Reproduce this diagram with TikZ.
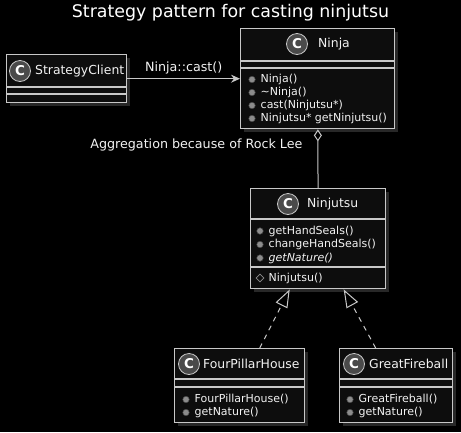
\documentclass[tikz,border=0pt]{standalone}
\usepackage{fontspec}
\setmainfont{DejaVu Sans}
\usepackage{xcolor}
\usepackage{tikz}
\usetikzlibrary{arrows.meta}
\usetikzlibrary{calc}
\usetikzlibrary{shapes.geometric,positioning,shadows}

\definecolor{umlbg}{HTML}{000000}
\definecolor{umlfill}{HTML}{0D0D0D}
\definecolor{umlborder}{HTML}{C8C8C8}
\definecolor{umltext}{HTML}{F2F2F2}
\definecolor{umlicon}{HTML}{4A4A4A}
\definecolor{umlshadow}{HTML}{505050}
\definecolor{umldot}{HTML}{8C8C8C}

\begin{document}
\begin{tikzpicture}[x=1pt, y=-1pt,
        classbox/.style={draw=umlborder, line width=1.4pt, fill=umlfill, anchor=north west, inner sep=0pt,
            drop shadow={shadow xshift=3pt, shadow yshift=-3pt, fill=umlshadow}},
        sepline/.style={draw=umlborder, line width=1.2pt},
        classicon/.style={circle, draw=umlborder, line width=0.8pt, fill=umlicon, minimum size=21pt,
            inner sep=0pt, text=white, font=\fontsize{13.5}{13.5}\selectfont\bfseries},
        classname/.style={anchor=west, inner sep=0pt, text=umltext, font=\fontsize{12.4}{14}\selectfont},
        member/.style={anchor=west, inner sep=0pt, text=umltext, font=\fontsize{11}{13}\selectfont},
        pubdot/.style={circle, fill=umldot, draw=umldot!50!black, line width=0.5pt, minimum size=6.5pt, inner sep=0pt},
        protmark/.style={diamond, draw=umldot, line width=0.8pt, minimum size=8pt, inner sep=0pt},
        link/.style={draw=umlborder, line width=1pt},
        edgelabel/.style={text=umltext, font=\fontsize{12.7}{15}\selectfont, inner sep=0pt}
    ]
        % Dark background, also fixes the page size
        \fill[umlbg] (0,0) rectangle (461,432);
        \useasboundingbox (0,0) rectangle (461,432);

        \node[text=white, font=\fontsize{17.4}{20}\selectfont] (title) at (230.5,12.5) {Strategy pattern for casting ninjutsu};

        % Class boxes
        \foreach \cls/\x/\y/\w/\h in {
            client/6/54/120/48,
            ninja/240/28/154/100,
            ninjutsu/250/188/135/100,
            pillar/174/348/130/74,
            fireball/339/348/113/74
        } {
            \node[classbox, minimum width=\w pt, minimum height=\h pt] (\cls) at (\x,\y) {};
        }

        % Compartment lines
        \foreach \cls/\a/\b in {client/33/40, ninja/33/40, ninjutsu/31/79, pillar/31/39, fireball/31/39} {
            \draw[sepline] ($(\cls.north west)+(0,\a)$) -- ($(\cls.north east)+(0,\a)$);
            \draw[sepline] ($(\cls.north west)+(0,\b)$) -- ($(\cls.north east)+(0,\b)$);
        }

        % Class icons and names
        \foreach \cls/\ix/\iy/\tx/\cname in {
            client/20/71/35/StrategyClient,
            ninja/297/44/318/Ninja,
            ninjutsu/288/204/307/Ninjutsu,
            pillar/189/364/203/FourPillarHouse,
            fireball/354/364/369/GreatFireball
        } {
            \node[classicon] (\cls-icon) at (\ix,\iy) {C};
            \node[classname] (\cls-name) at (\tx,\iy) {\cname};
        }

        % Public methods
        \foreach \dx/\y/\txt [count=\k] in {
            252/79.5/Ninja(),
            252/92.5/{\textasciitilde Ninja()},
            252/105.5/cast(Ninjutsu*),
            252/118.5/Ninjutsu* getNinjutsu(),
            260/231/getHandSeals(),
            260/244.5/changeHandSeals(),
            260/258/{\itshape getNature()},
            186/399.5/FourPillarHouse(),
            186/412.5/getNature(),
            350/399.5/GreatFireball(),
            350/412.5/getNature()
        } {
            \node[pubdot] (dot\k) at (\dx,\y) {};
            \node[member] (meth\k) at (\dx+8.5,\y) {\txt};
        }

        % Protected constructor
        \node[protmark] (protdot) at (260,278) {};
        \node[member] (protmeth) at (268.5,278) {Ninjutsu()};

        % Relations
        \draw[link, -{Stealth[length=9pt, width=8pt, inset=3pt]}] (client) --
            node[edgelabel, above=4pt] (cast-label) {Ninja::cast()} (ninja);
        \draw[link, {Diamond[length=12pt, width=8pt, fill=umlbg]}-] (ninja) --
            node[edgelabel, pos=0.27, left=15pt] (agg-label) {Aggregation because of Rock Lee} (ninjutsu);
        \draw[link, dash pattern=on 5pt off 5pt, -{Triangle[length=18pt, width=13pt, fill=umlbg]}]
            ([xshift=20pt]pillar.north) -- ([xshift=-28.5pt]ninjutsu.south);
        \draw[link, dash pattern=on 5pt off 5pt, -{Triangle[length=18pt, width=13pt, fill=umlbg]}]
            ([xshift=-20.5pt]fireball.north) -- ([xshift=25.5pt]ninjutsu.south);
    \end{tikzpicture}
\end{document}
